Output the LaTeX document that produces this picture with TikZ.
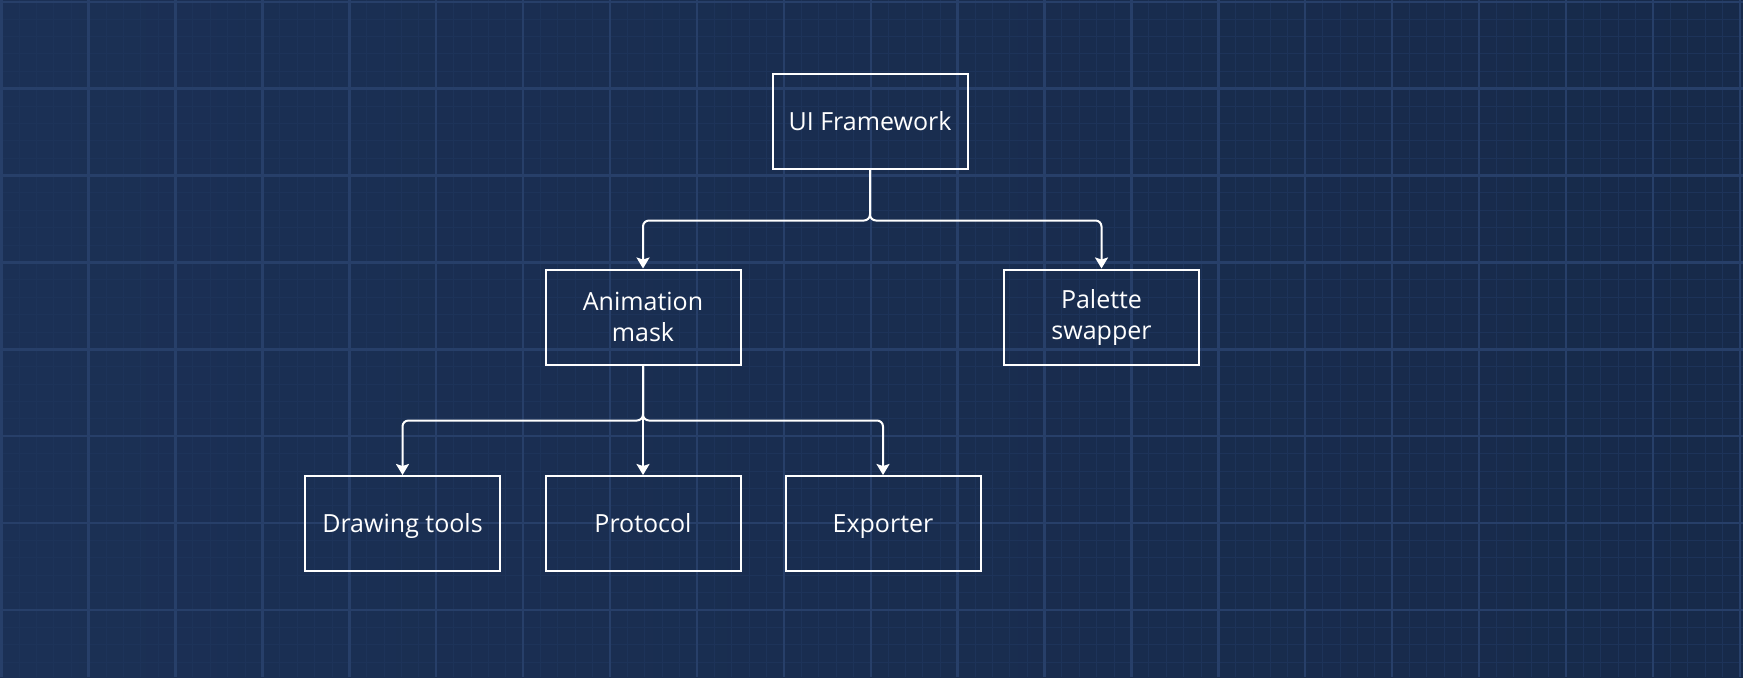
\documentclass[tikz,border=0pt]{standalone}
\usepackage{fontspec}
\setmainfont{Open Sans}
\usetikzlibrary{arrows.meta}
\definecolor{bgleft}{HTML}{1B3055}
\definecolor{bgright}{HTML}{172A4A}
\definecolor{gridmajor}{HTML}{273F69}
\definecolor{gridminor}{HTML}{1D3359}
\tikzset{
  box/.style={draw=white, line width=1pt, minimum width=97.5pt, minimum height=47.5pt,
    inner sep=0pt, align=center, text=white, font=\fontsize{12.5}{15.5}\selectfont},
  oneline/.style={box, text height=8.9pt, text depth=0pt},
  link/.style={draw=white, line width=1pt, rounded corners=3pt,
    -{Stealth[length=5.5pt,width=6.5pt,inset=1pt]}}
}
\begin{document}
\begin{tikzpicture}[x=0.5pt,y=-0.5pt]
\shade[left color=bgleft, right color=bgright] (0,0) rectangle (1743,677);
\useasboundingbox (0,0) rectangle (1743,677);

% grid
\foreach \i in {0,...,100} \draw[gridminor, line width=0.4pt] ({1.7+17.38*\i},0) -- ({1.7+17.38*\i},677);
\foreach \i in {0,...,38} \draw[gridminor, line width=0.4pt] (0,{1.7+17.38*\i}) -- (1743,{1.7+17.38*\i});
\foreach \i in {0,...,20} \draw[gridmajor, line width=1.2pt] ({1.7+86.9*\i},0) -- ({1.7+86.9*\i},677);
\foreach \i in {0,...,7} \draw[gridmajor, line width=1.2pt] (0,{1.7+86.9*\i}) -- (1743,{1.7+86.9*\i});

% boxes
\node[oneline] (ui) at (870,121.5) {UI Framework};
\node[box] (anim) at (643,317) {Animation\\mask};
\node[box] (palette) at (1101.5,317) {Palette\\swapper};
\node[oneline] (drawing) at (402.5,523.5) {Drawing tools};
\node[oneline] (protocol) at (643,523.5) {Protocol};
\node[oneline] (exporter) at (883,523.5) {Exporter};

% links
\path (ui.south) ++(0,50.5) coordinate (forkA);
\path (anim.south) ++(0,55) coordinate (forkB);
\draw[link] (ui.south) -- (forkA) -| (anim.north);
\draw[link] (ui.south) -- (forkA) -| (palette.north);
\draw[link] (anim.south) -- (forkB) -| (drawing.north);
\draw[link] (anim.south) -- (forkB) -- (protocol.north);
\draw[link] (anim.south) -- (forkB) -| (exporter.north);

\end{tikzpicture}
\end{document}
